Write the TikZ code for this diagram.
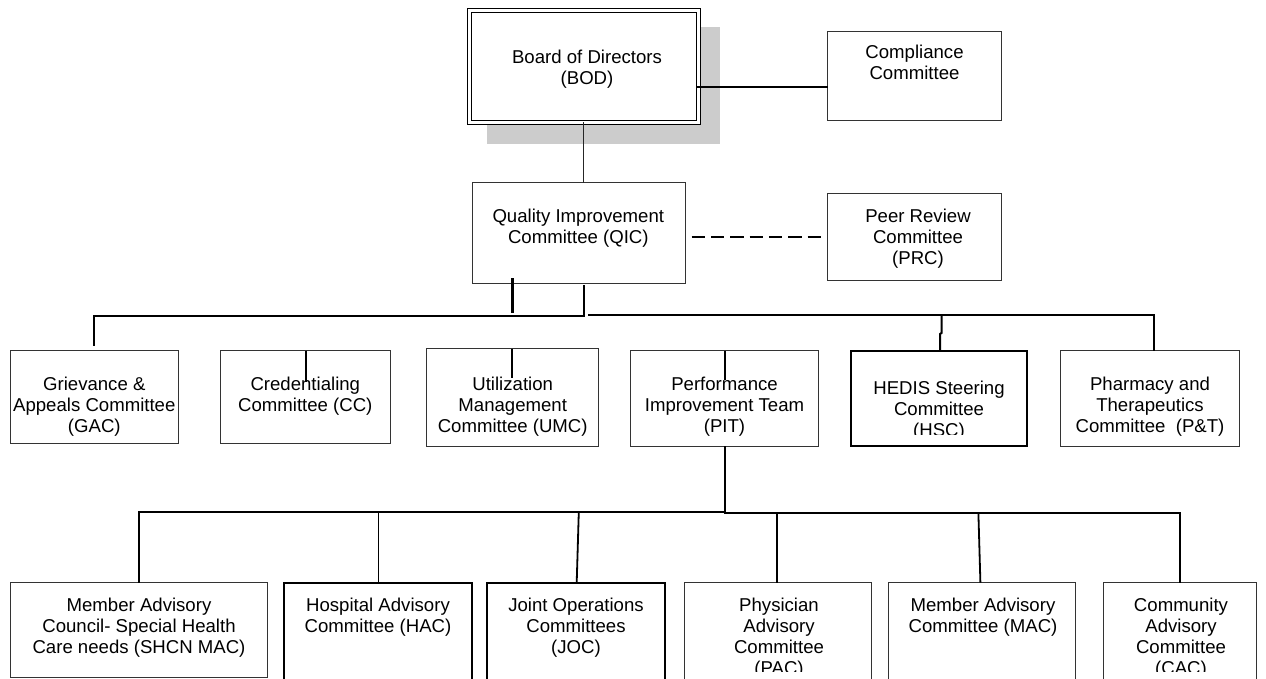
\documentclass[tikz,border=0pt]{standalone}
\usepackage{fontspec}
\setmainfont{Liberation Sans}
\begin{document}
\begin{tikzpicture}[x=1pt,y=-1pt,
  box/.style={draw=black!80, line width=1pt, fill=white, rectangle, inner sep=0pt, outer sep=0pt},
  tbox/.style={draw=black, line width=2pt, fill=white, rectangle, inner sep=0pt, outer sep=0pt},
  lbl/.style={anchor=north, align=center, inner sep=0pt, outer sep=0pt, font=\fontsize{18.6}{21}\selectfont},
  conn/.style={draw=black, line width=2pt},
  thinconn/.style={draw=black!85, line width=1.1pt},
  midconn/.style={draw=black, line width=1.8pt},
  dashconn/.style={draw=black, line width=2.2pt, dash pattern=on 13.3pt off 6pt}]
\useasboundingbox (0,0) rectangle (1266,678);
\clip (0,0) rectangle (1266,678);
\fill[white] (0,0) rectangle (1266,678);

% shadow of the board box
\fill[black!20] (487.3,27.3) rectangle (720,144.3);

% top boxes
\node[box, draw=black, line width=1pt, double, double distance=3pt, minimum width=228.3pt, minimum height=112pt] (BOD) at (583.85,66.3) {};
\node[box, minimum width=174pt, minimum height=88.8pt] (COMP) at (914.7,76.1) {};
\node[box, minimum width=213pt, minimum height=100.6pt] (QIC) at (578.5,233) {};
\node[box, minimum width=174pt, minimum height=86.7pt] (PRC) at (914.7,236.65) {};

% connectors at the top
\coordinate (bodline) at (0,86.5);
\coordinate (qicdash) at (0,236.7);
\draw[thinconn] (BOD.south) -- (BOD.south |- QIC.north);
\draw[conn] ([xshift=-2pt]BOD.east |- bodline) -- (COMP.west |- bodline);
\draw[dashconn] ([xshift=6.7pt]QIC.east |- qicdash) -- ([xshift=-7pt]PRC.west |- qicdash);

% middle row
\node[box, minimum width=168pt, minimum height=92.6pt] (GAC) at (94.3,397) {};
\node[box, minimum width=170.7pt, minimum height=92.6pt] (CC) at (305.35,397) {};
\node[box, minimum width=172.1pt, minimum height=97.5pt] (UMC) at (512.75,397.25) {};
\node[box, minimum width=188.6pt, minimum height=95.3pt] (PIT) at (724.5,398.35) {};
\node[tbox, minimum width=176.5pt, minimum height=95.2pt] (HSC) at (938.75,398.6) {};
\node[box, minimum width=178.5pt, minimum height=95.3pt] (PT) at (1149.75,398.35) {};

% bottom row
\node[box, minimum width=257.6pt, minimum height=94.3pt] (SHCN) at (139,629.85) {};
\node[tbox, minimum width=188.5pt, minimum height=117.3pt] (HAC) at (377.95,641.35) {};
\node[tbox, minimum width=177.5pt, minimum height=117.3pt] (JOC) at (575.75,641.35) {};
\node[box, minimum width=186.5pt, minimum height=117.3pt] (PAC) at (777.75,641.35) {};
\node[box, minimum width=187pt, minimum height=117.3pt] (MAC) at (981.5,641.35) {};
\node[box, minimum width=153pt, minimum height=117.3pt] (CAC) at (1179.5,641.35) {};

% bus under QIC
\coordinate (qa) at (512.3,278);
\coordinate (qb) at (512.3,313.3);
\coordinate (qc) at (584.3,285);
\coordinate (busL) at (0,315.5);
\coordinate (gacend) at (94.3,346);
\coordinate (rbus0) at (588,314.5);
\coordinate (rbus1) at (1154,314.5);
\coordinate (ptend) at (1154,350.7);
\coordinate (h0) at (941.5,314.5);
\coordinate (h1) at (941.5,333);
\coordinate (h2) at (940,334);
\coordinate (h3) at (940,350.7);
\draw[line width=2.6pt] (qa) -- (qb);
\draw[conn] (qc) -- (qc |- busL) -- (gacend |- busL) -- (gacend);
\draw[conn] (rbus0) -- (rbus1) -- (ptend);
\draw[conn] (h0) -- (h1) -- (h2) -- (h3);

% bus under PIT
\coordinate (pitbot) at (725,446);
\coordinate (bbusL) at (0,511.7);
\coordinate (bbusR) at (0,513.3);
\draw[conn] (pitbot) -- (pitbot |- bbusL) -- (SHCN.north |- bbusL) -- (SHCN.north);
\draw[conn] (pitbot |- bbusL) -- (pitbot |- bbusR) -- (CAC.north |- bbusR) -- (CAC.north);
\coordinate (v1a) at (378.4,511.7);
\coordinate (v2a) at (578.8,511.7);
\coordinate (v2b) at (576.7,582.7);
\coordinate (v3a) at (777,513.3);
\coordinate (v4a) at (978.4,513.3);
\coordinate (v4b) at (980.4,582.7);
\draw[midconn] (v1a) -- (v1a |- HAC.north);
\draw[midconn] (v2a) -- (v2b);
\draw[midconn] (v3a) -- (v3a |- PAC.north);
\draw[midconn] (v4a) -- (v4b);

% texts
\node[lbl] (tBOD) at (587,49.7) {Board of Directors\\(BOD)};
\node[lbl] (tCOMP) at (914.5,45.4) {Compliance\\Committee};
\node[lbl] (tQIC) at (578.3,208.7) {Quality Improvement\\Committee (QIC)};
\node[lbl] (tPRC) at (918,209) {Peer Review\\Committee\\(PRC)};

\node[lbl] (tGAC) at (94.3,377.4) {Grievance \&\\Appeals Committee\\(GAC)};
\node[lbl] (tCC) at (305.3,377.4) {Credentialing\\Committee (CC)};
\node[lbl] (tUMC) at (512.7,376.6) {Utilization\\Management\\Committee (UMC)};
\node[lbl] (tPIT) at (724.5,377.4) {Performance\\Improvement Team\\(PIT)};
\begin{scope}
\clip (850,350) rectangle (1028,434);
\node[lbl] (tHSC) at (939,380.9) {HEDIS Steering\\Committee\\(HSC)};
\end{scope}
\node[lbl] (tPT) at (1150,377.4) {Pharmacy and\\Therapeutics\\Committee\ \ (P\&T)};

\node[lbl] (tSHCN) at (139,597.9) {Member Advisory\\Council- Special Health\\Care needs (SHCN MAC)};
\node[lbl] (tHAC) at (378,597.9) {Hospital Advisory\\Committee (HAC)};
\node[lbl] (tJOC) at (576,597.9) {Joint Operations\\Committees\\(JOC)};
\begin{scope}
\clip (685,583) rectangle (870,671);
\node[lbl] (tPAC) at (779,597.9) {Physician\\Advisory\\Committee\\(PAC)};
\end{scope}
\node[lbl] (tMAC) at (983,597.9) {Member Advisory\\Committee (MAC)};
\begin{scope}
\clip (1104,583) rectangle (1255,671);
\node[lbl] (tCAC) at (1181,597.9) {Community\\Advisory\\Committee\\(CAC)};
\end{scope}

% short stubs drawn over the texts
\coordinate (s1) at (305.7,381.7);
\coordinate (s2) at (512.3,378.3);
\coordinate (s3) at (725,380);
\draw[midconn] (s1 |- CC.north) -- (s1);
\draw[midconn] (s2 |- UMC.north) -- (s2);
\draw[midconn] (s3 |- PIT.north) -- (s3);
\end{tikzpicture}
\end{document}
